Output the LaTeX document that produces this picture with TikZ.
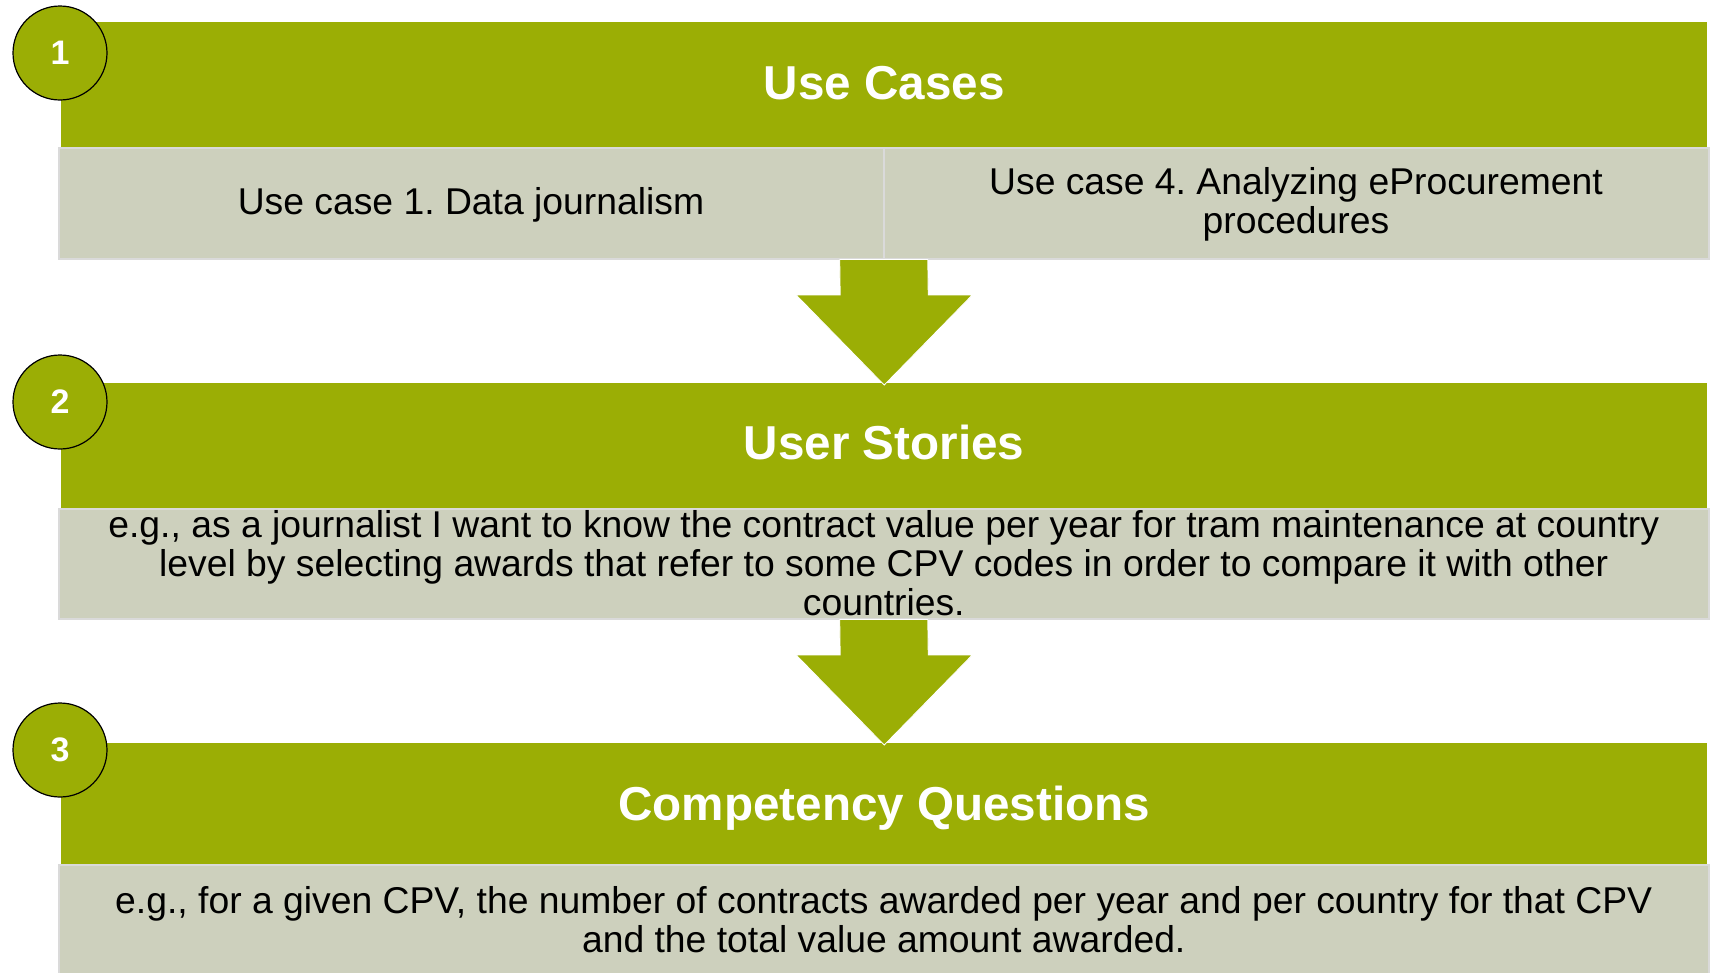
\documentclass[tikz,border=0pt]{standalone}
\usepackage{fontspec}
\setmainfont{Liberation Sans}
\usepackage{xcolor}
\definecolor{barGreen}{HTML}{9BAE05}
\definecolor{boxGray}{HTML}{CDD0BD}
\definecolor{boxEdge}{HTML}{DADADA}
\frenchspacing

\newcommand{\flowarrow}[2]{%
  \draw[blockarrow] ([xshift=-44pt]#1.south) -- ([xshift=-44pt,yshift=88pt]#2.north)
    -- ([xshift=-88pt,yshift=88pt]#2.north) -- ([yshift=-2pt]#2.north)
    -- ([xshift=88pt,yshift=88pt]#2.north) -- ([xshift=44pt,yshift=88pt]#2.north)
    -- ([xshift=44pt]#1.south) -- cycle;}

\begin{document}
\begin{tikzpicture}[x=1pt,y=-1pt,
    bar/.style={fill=barGreen, anchor=north west, inner sep=0pt, minimum width=1646pt},
    cell/.style={fill=boxGray, draw=boxEdge, line width=1.5pt, anchor=north west, inner sep=0pt, minimum width=1650pt, minimum height=110pt},
    title/.style={text=white, font=\bfseries\fontsize{47.6}{57}\selectfont},
    body/.style={align=center, font=\fontsize{37.3}{39}\selectfont},
    badge/.style={circle, fill=barGreen, draw=black, line width=1.2pt, minimum size=94pt, inner sep=0pt, text=white, font=\bfseries\fontsize{34}{40}\selectfont},
    blockarrow/.style={fill=barGreen, draw=white, line width=0.8pt}]
    \useasboundingbox (0,0) rectangle (1712,972);

    \node[bar, minimum height=125pt] (usecases) at (61,22) {};
    \node[bar, minimum height=125pt] (userstories) at (61,383) {};
    \node[bar, minimum height=121pt] (questions) at (61,743) {};

    \node[title] at ([yshift=2pt]usecases.center) {Use Cases};
    \node[title] at ([yshift=3pt]userstories.center) {User Stories};
    \node[title] at ([yshift=-4pt]questions.center) {Competency Questions};

    \node[cell, minimum height=111pt] (cases) at (58,147) {};
    \draw[boxEdge, line width=1.5pt] (cases.north) -- (cases.south);
    \node[body] (caseone) at (471,205) {Use case 1. Data journalism};
    \node[body] (casefour) at (1296,204) {Use case 4. Analyzing eProcurement\\procedures};

    \node[cell] (stories) at (58,508) {};
    \node[body] at ([yshift=1pt]stories.center) {e.g., as a journalist I want to know the contract value per year for tram maintenance at country\\level by selecting awards that refer to some CPV codes in order to compare it with other\\countries.};

    \node[cell] (queries) at (58,864) {};
    \node[body] at (queries.center) {e.g., for a given CPV, the number of contracts awarded per year and per country for that CPV\\and the total value amount awarded.};

    \flowarrow{cases}{userstories}
    \flowarrow{stories}{questions}

    \node[badge] (one) at (60,53) {1};
    \node[badge] (two) at (60,402) {2};
    \node[badge] (three) at (60,750) {3};
\end{tikzpicture}
\end{document}
